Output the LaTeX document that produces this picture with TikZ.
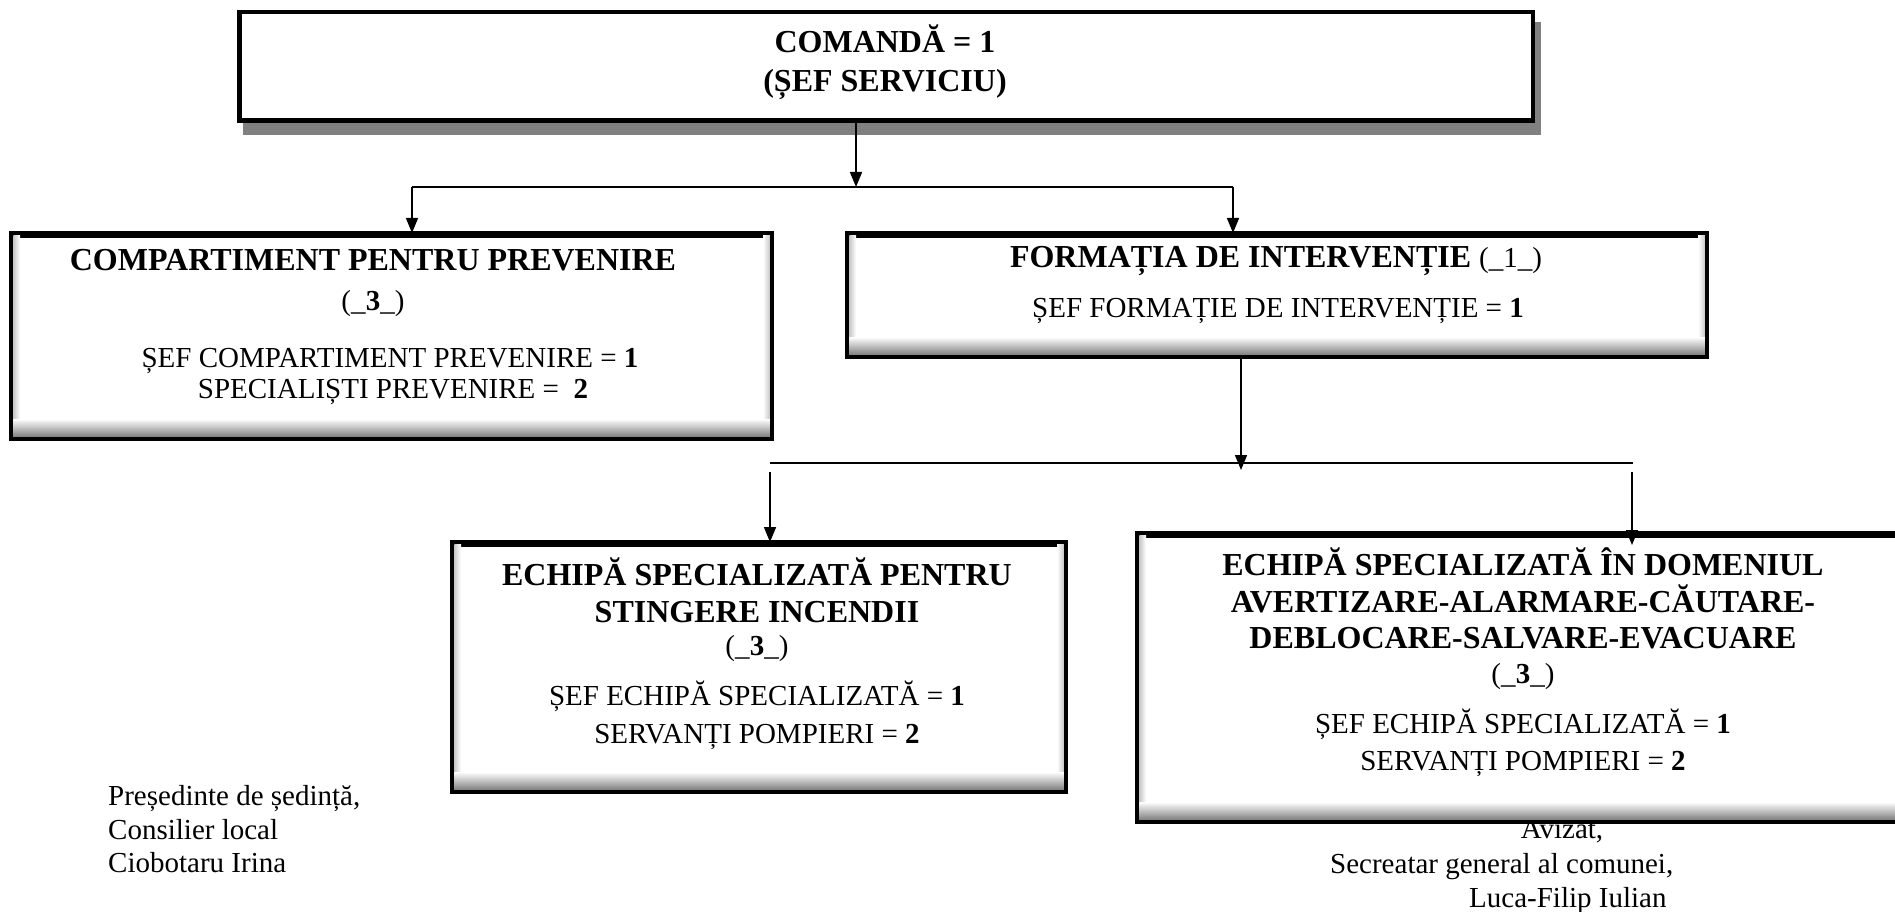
\documentclass[tikz,border=0pt]{standalone}
\usepackage{fontspec}
\setmainfont{Liberation Serif}
\usetikzlibrary{arrows.meta}
\newcommand{\innerglow}[1]{%
  \shade[left color=black!22,right color=white] ([shift={(2.25,2.25)}]#1.north west) rectangle ([shift={(9,-2.25)}]#1.south west);
  \shade[left color=white,right color=black!22] ([shift={(-9,2.25)}]#1.north east) rectangle ([shift={(-2.25,-2.25)}]#1.south east);
  \shade[top color=white,bottom color=black!50] ([shift={(2.25,-20)}]#1.south west) rectangle ([shift={(-2.25,-2.25)}]#1.south east);
  \draw[line width=4.5pt] (#1.north west) rectangle (#1.south east);
}
\begin{document}
\begin{tikzpicture}[x=1pt,y=-1pt,
  box/.style={draw=black,line width=4.5pt,fill=white,inner sep=0pt,rectangle},
  conn/.style={line width=1.6pt,-{Triangle[width=12pt,length=15pt]}},
  plain/.style={line width=1.6pt},
  hd/.style={font=\bfseries\fontsize{32}{37}\selectfont,anchor=base,inner sep=0pt},
  tx/.style={font=\fontsize{29}{34}\selectfont,anchor=base,inner sep=0pt},
  sig/.style={font=\fontsize{29}{34}\selectfont,anchor=base west,inner sep=0pt},
  shadowfill/.style={fill=black!50}]
\useasboundingbox (0,0) rectangle (1895,912);

% signature under the right box (partly covered by it)
\node[tx] (a1) at (1562,838) {Avizat,};

% top box
\fill[shadowfill] (243,22) rectangle (1541,135);
\node[box,minimum width=1293.5pt,minimum height=108.5pt] (top) at (886,66.5) {};
\node[hd] (t1) at (885,53) {COMANDĂ = 1};
\node[hd] (t2) at (885,92) {(ȘEF SERVICIU)};

% second level
\node[box,minimum width=756.5pt,minimum height=201.5pt] (comp) at (391.5,336) {};
\innerglow{comp}
\node[box,minimum width=855.5pt,minimum height=119.5pt] (form) at (1277,295) {};
\innerglow{form}

% third level
\node[box,minimum width=609.5pt,minimum height=245.5pt] (stin) at (759,667) {};
\innerglow{stin}
\node[box,minimum width=767.5pt,minimum height=284.5pt] (aver) at (1523,677.5) {};
\innerglow{aver}

% texts
\node[hd] (c1) at (373,270) {COMPARTIMENT PENTRU PREVENIRE};
\node[tx] (c2) at (373,310) {(\_\textbf{3}\_)};
\node[tx] (c3) at (390,367) {ȘEF COMPARTIMENT PREVENIRE = \textbf{1}};
\node[tx] (c4) at (393,398) {SPECIALIȘTI PREVENIRE = \ \textbf{2}};

\node[hd] (f1) at (1276,267) {FORMAȚIA DE INTERVENȚIE {\mdseries\fontsize{29}{34}\selectfont(\_1\_)}};
\node[tx] (f2) at (1278,317) {ȘEF FORMAȚIE DE INTERVENȚIE = \textbf{1}};

\node[hd] (s1) at (757,585) {ECHIPĂ SPECIALIZATĂ PENTRU};
\node[hd] (s2) at (757,622) {STINGERE INCENDII};
\node[tx] (s3) at (757,655) {(\_\textbf{3}\_)};
\node[tx] (s4) at (757,705) {ȘEF ECHIPĂ SPECIALIZATĂ = \textbf{1}};
\node[tx] (s5) at (757,743) {SERVANȚI POMPIERI = \textbf{2}};

\node[hd] (v1) at (1523,575) {ECHIPĂ SPECIALIZATĂ ÎN DOMENIUL};
\node[hd] (v2) at (1523,612) {AVERTIZARE-ALARMARE-CĂUTARE-};
\node[hd] (v3) at (1523,648) {DEBLOCARE-SALVARE-EVACUARE};
\node[tx] (v4) at (1523,683) {(\_\textbf{3}\_)};
\node[tx] (v5) at (1523,733) {ȘEF ECHIPĂ SPECIALIZATĂ = \textbf{1}};
\node[tx] (v6) at (1523,770) {SERVANȚI POMPIERI = \textbf{2}};

% connectors
\coordinate (j0) at (856,187);
\coordinate (jl) at (412,187);
\coordinate (jr) at (1233,187);
\draw[conn] (top.south -| j0) -- (j0);
\draw[plain] (jl) -- (jr);
\draw[conn] (jl) -- (jl |- comp.north);
\draw[conn] (jr) -- (jr |- form.north);

\coordinate (j1) at (1241,470);
\draw[conn] (form.south -| j1) -- (j1);
\coordinate (hl) at (770,463);
\coordinate (hr) at (1633,463);
\draw[plain] (hl) -- (hr);
\coordinate (dl) at (770,472);
\coordinate (dr) at (1632,472);
\coordinate (de) at (1632,545);
\draw[conn] (dl) -- (dl |- stin.north);
\draw[conn] (dr) -- (de);

% signatures
\node[sig] (p1) at (108,805) {Președinte de ședință,};
\node[sig] (p2) at (108,839) {Consilier local};
\node[sig] (p3) at (108,872) {Ciobotaru Irina};
\node[sig] (a2) at (1330,873) {Secreatar general al comunei,};
\node[sig] (a3) at (1469,907) {Luca-Filip Iulian};
\end{tikzpicture}
\end{document}
